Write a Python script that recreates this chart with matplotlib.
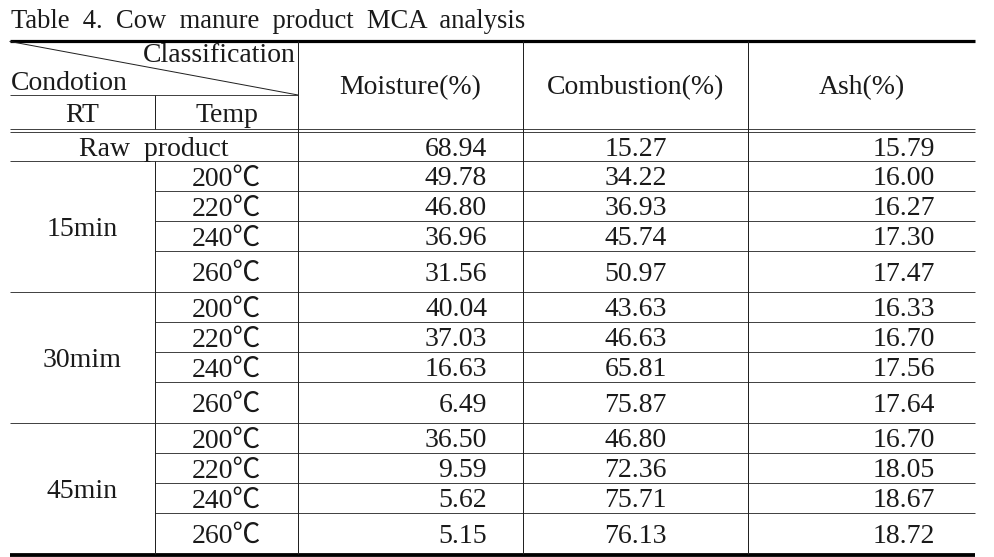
import matplotlib
matplotlib.use("Agg")
import matplotlib.pyplot as plt

# ---- data ----
title = "Table  4.  Cow  manure  product  MCA  analysis"
col_headers = ["Moisture(%)", "Combustion(%)", "Ash(%)"]
raw_label = "Raw  product"
raw_values = ["68.94", "15.27", "15.79"]
rt_labels = ["15min", "30mim", "45min"]
temp_labels = ["200℃", "220℃", "240℃", "260℃"]
moisture = [["49.78", "46.80", "36.96", "31.56"],
            ["40.04", "37.03", "16.63", "6.49"],
            ["36.50", "9.59", "5.62", "5.15"]]
combustion = [["34.22", "36.93", "45.74", "50.97"],
              ["43.63", "46.63", "65.81", "75.87"],
              ["46.80", "72.36", "75.71", "76.13"]]
ash = [["16.00", "16.27", "17.30", "17.47"],
       ["16.33", "16.70", "17.56", "17.64"],
       ["16.70", "18.05", "18.67", "18.72"]]

# ---- layout (pixels) ----
W, H = 995, 557
xL, xRT, xC, xM, xCb, xR = 10, 155, 298, 523, 748, 975
y_top, y_mid, y_dbl1, y_dbl2 = 40.5, 95, 129, 132
raw_h = 29
sub_h = [30, 30, 30, 41]

FONT = ["Liberation Serif", "Noto Sans CJK KR", "DejaVu Sans"]
FS = 20
CAP = 9.4  # half digit height in px (for baseline placement)
px = 72 / 100  # 1 px in points

fig = plt.figure(figsize=(W / 100, H / 100), dpi=100)
ax = fig.add_axes([0, 0, 1, 1])
ax.set_xlim(0, W)
ax.set_ylim(H, 0)
ax.axis("off")

def T(x, y, s, ha="center", fs=FS):
    ax.text(x, y, s, ha=ha, va="baseline", fontsize=fs, family=FONT, color="#1a1a1a")

def hline(y, x0, x1, lw=1.0, c="#444"):
    ax.plot([x0, x1], [y, y], color=c, lw=lw * px, solid_capstyle="butt")

def vline(x, y0, y1, lw=1.0, c="#222"):
    ax.plot([x, x], [y0, y1], color=c, lw=lw * px, solid_capstyle="butt")

# title
T(xL + 1, 28, title, ha="left", fs=19.2)

# header
hline(y_top, xL, xR, lw=3.2, c="black")
ax.plot([xL, xC], [y_top + 1, y_mid], color="#222", lw=1.0 * px)
hline(y_mid, xL, xC)
T(xC - 2, 62, "Classification", ha="right")
T(xL + 1, 90, "Condotion", ha="left")
T((xL + xRT) / 2, 121.5, "RT")
T((xRT + xC) / 2, 121.5, "Temp")
hdr_c = (y_top + y_dbl1) / 2
for (a, b), s in zip([(xC, xM), (xM, xCb), (xCb, xR)], col_headers):
    T((a + b) / 2, hdr_c + CAP, s)
hline(y_dbl1, xL, xR)
hline(y_dbl2, xL, xR)
vline(xRT, y_mid, y_dbl1)

# raw product row
y0 = y_dbl2
yc = y0 + raw_h / 2
T((xL + xC) / 2, yc + CAP, raw_label)
T(487, yc + CAP, raw_values[0], ha="right")
T((xM + xCb) / 2, yc + CAP, raw_values[1])
T(935, yc + CAP, raw_values[2], ha="right")
y0 += raw_h
hline(y0, xL, xR)
y_body_start = y0

# groups
for g, rt in enumerate(rt_labels):
    g_top = y0
    for i, tl in enumerate(temp_labels):
        yc = y0 + sub_h[i] / 2
        T((xRT + xC) / 2, yc + CAP, tl)
        T(487, yc + CAP, moisture[g][i], ha="right")
        T((xM + xCb) / 2, yc + CAP, combustion[g][i])
        T(935, yc + CAP, ash[g][i], ha="right")
        y0 += sub_h[i]
        if i < len(temp_labels) - 1:
            hline(y0, xRT, xR)
    T((xL + xRT) / 2, (g_top + y0) / 2 + CAP, rt)
    if g < len(rt_labels) - 1:
        hline(y0, xL, xR)

y_bottom = y0
hline(y_bottom + 0.5, xL, xR, lw=3.8, c="black")

# verticals
vline(xRT, y_body_start, y_bottom)
for x in (xC, xM, xCb):
    vline(x, y_top, y_bottom)

fig.savefig("out.png", dpi=100)
